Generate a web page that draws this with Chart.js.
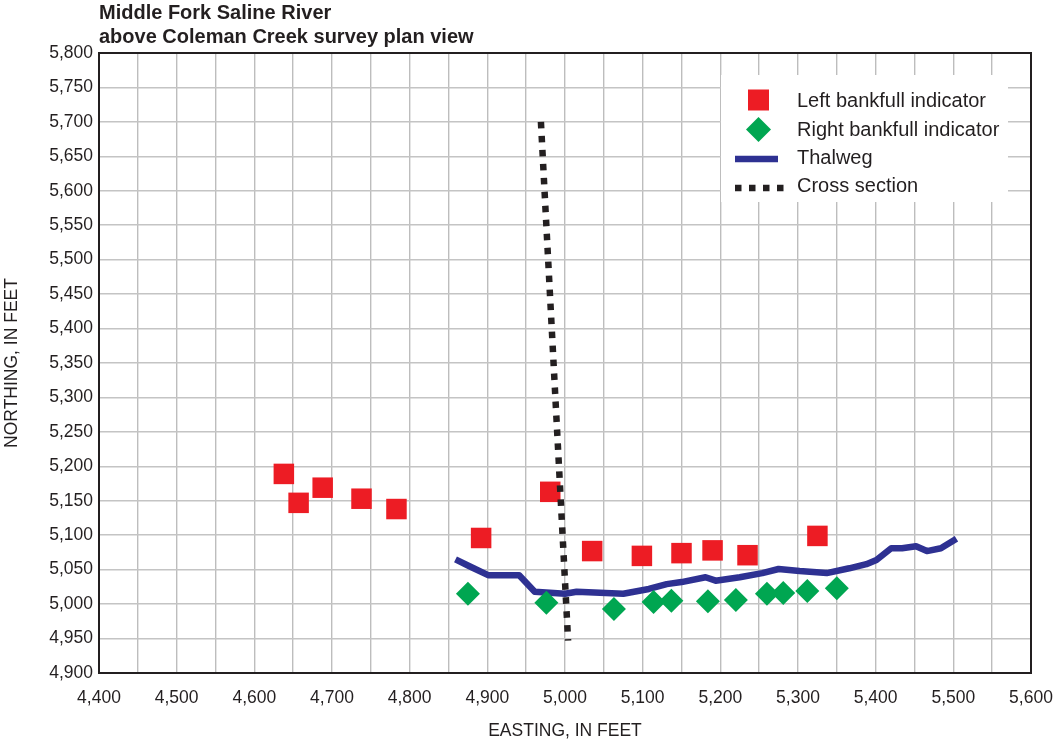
<!DOCTYPE html>
<html>
<head>
<meta charset="utf-8">
<script src="https://cdn.jsdelivr.net/npm/chart.js@4.4.1/dist/chart.umd.min.js"></script>
<style>
  html, body { margin: 0; padding: 0; background: #ffffff; }
  #wrap { width: 1056px; height: 742px; position: relative; }
</style>
</head>
<body>
<div id="wrap"><canvas id="plan" width="1056" height="742"></canvas></div>
<script>
// Survey plan view, Middle Fork Saline River above Coleman Creek
const titleLines = ['Middle Fork Saline River', 'above Coleman Creek survey plan view'];
const xAxisTitle = 'EASTING, IN FEET';
const yAxisTitle = 'NORTHING, IN FEET';
const seriesNames = ['Left bankfull indicator', 'Right bankfull indicator', 'Thalweg', 'Cross section'];

const xTickLabels = ['4,400', '4,500', '4,600', '4,700', '4,800', '4,900', '5,000',
                     '5,100', '5,200', '5,300', '5,400', '5,500', '5,600'];
const yTickLabels = ['4,900', '4,950', '5,000', '5,050', '5,100', '5,150', '5,200', '5,250', '5,300',
                     '5,350', '5,400', '5,450', '5,500', '5,550', '5,600', '5,650', '5,700', '5,750', '5,800'];

// Left bankfull indicator points (easting, northing), feet
const leftEasting  = [4638, 4657, 4688, 4738, 4783, 4892, 4981, 5035, 5099, 5150, 5190, 5235, 5325];
const leftNorthing = [5189, 5147, 5169, 5153, 5138, 5096, 5163, 5077, 5070, 5074, 5078, 5071, 5099];

// Right bankfull indicator points
const rightEasting  = [4875, 4976, 5063, 5114, 5137, 5184, 5220, 5260, 5281, 5312, 5350];
const rightNorthing = [5015, 5002, 4993, 5003, 5005, 5004, 5006, 5015, 5016, 5019, 5023];

// Thalweg survey shots
const thalwegEasting  = [4859, 4877, 4901, 4941, 4961, 5000, 5015, 5075, 5108, 5131, 5150, 5181, 5194,
                         5225, 5254, 5275, 5302, 5337, 5366, 5388, 5401, 5420, 5434, 5452, 5466, 5484, 5504];
const thalwegNorthing = [5065, 5055, 5042, 5042, 5018, 5015, 5018, 5015, 5022, 5029, 5032, 5039, 5034,
                         5039, 5045, 5051, 5048, 5045, 5052, 5058, 5064, 5081, 5081, 5084, 5077, 5081, 5095];

// Cross section end points
const sectionEasting  = [4969, 5004];
const sectionNorthing = [5700, 4947];

const toPoints = (xs, ys) => xs.map((x, i) => ({ x: x, y: ys[i] }));

const FONT = '"Liberation Sans", Arial, Helvetica, sans-serif';
const INK = '#231f20';
const RED = '#ed1c24';
const GREEN = '#00a651';
const NAVY = '#2e3192';

const fmtTick = (labels, start, step) => (value) => {
  const idx = Math.round((value - start) / step);
  if (Math.abs(value - (start + idx * step)) > 1e-6) return '';
  return labels[idx] !== undefined ? labels[idx] : '';
};

// Title above the plot, the frame around it, and the key in the upper right
const decorations = {
  id: 'decorations',
  beforeDatasetsDraw(chart) {
    const { ctx, chartArea: a } = chart;
    ctx.save();
    ctx.strokeStyle = INK;
    ctx.lineWidth = 2;
    ctx.strokeRect(a.left, a.top, a.right - a.left, a.bottom - a.top);
    ctx.restore();
  },
  afterDatasetsDraw(chart) {
    const { ctx, chartArea: a } = chart;
    ctx.save();
    // title
    ctx.fillStyle = INK;
    ctx.font = 'bold 20px ' + FONT;
    ctx.textAlign = 'left';
    ctx.textBaseline = 'alphabetic';
    ctx.fillText(titleLines[0], a.left, 19);
    ctx.fillText(titleLines[1], a.left, 43);

    // key
    const ds = chart.data.datasets;
    ctx.fillStyle = '#ffffff';
    ctx.fillRect(721, 75, 287, 127);
    const markX = 758.5, textX = 797;
    const rows = [100, 129.5, 157, 185];

    // left bankfull square
    ctx.fillStyle = ds[0].backgroundColor;
    ctx.fillRect(markX - 10.5, rows[0] - 10.5, 21, 21);
    // right bankfull diamond
    ctx.fillStyle = ds[1].backgroundColor;
    ctx.beginPath();
    ctx.moveTo(markX, rows[1] - 12.5);
    ctx.lineTo(markX + 12.5, rows[1]);
    ctx.lineTo(markX, rows[1] + 12.5);
    ctx.lineTo(markX - 12.5, rows[1]);
    ctx.closePath();
    ctx.fill();
    // thalweg line
    ctx.strokeStyle = ds[2].borderColor;
    ctx.lineWidth = ds[2].borderWidth;
    ctx.lineCap = 'butt';
    ctx.beginPath();
    ctx.moveTo(735, rows[2] + 2);
    ctx.lineTo(778, rows[2] + 2);
    ctx.stroke();
    // cross section dots
    ctx.strokeStyle = ds[3].borderColor;
    ctx.lineWidth = ds[3].borderWidth;
    ctx.setLineDash(ds[3].borderDash);
    ctx.beginPath();
    ctx.moveTo(735, rows[3] + 3);
    ctx.lineTo(786, rows[3] + 3);
    ctx.stroke();
    ctx.setLineDash([]);

    ctx.fillStyle = INK;
    ctx.font = '20px ' + FONT;
    ctx.textBaseline = 'middle';
    seriesNames.forEach((name, i) => ctx.fillText(name, textX, rows[i] + 1));
    ctx.restore();
  }
};

new Chart(document.getElementById('plan'), {
  type: 'scatter',
  data: {
    datasets: [
      {
        label: seriesNames[0],
        data: toPoints(leftEasting, leftNorthing),
        pointStyle: 'rect',
        pointRadius: 14.5,
        pointHoverRadius: 14.5,
        backgroundColor: RED,
        borderColor: RED,
        borderWidth: 0,
        order: 1
      },
      {
        label: seriesNames[1],
        data: toPoints(rightEasting, rightNorthing),
        pointStyle: 'rectRot',
        pointRadius: 12,
        pointHoverRadius: 12,
        backgroundColor: GREEN,
        borderColor: GREEN,
        borderWidth: 0,
        order: 2
      },
      {
        label: seriesNames[2],
        data: toPoints(thalwegEasting, thalwegNorthing),
        showLine: true,
        borderColor: NAVY,
        backgroundColor: NAVY,
        borderWidth: 6.5,
        borderJoinStyle: 'round',
        pointRadius: 0,
        pointHoverRadius: 0,
        tension: 0,
        order: 3
      },
      {
        label: seriesNames[3],
        data: toPoints(sectionEasting, sectionNorthing),
        showLine: true,
        borderColor: INK,
        backgroundColor: INK,
        borderWidth: 6.5,
        borderDash: [6.5, 7.5],
        borderCapStyle: 'butt',
        pointRadius: 0,
        pointHoverRadius: 0,
        tension: 0,
        order: 0
      }
    ]
  },
  options: {
    responsive: false,
    animation: false,
    devicePixelRatio: 1,
    layout: { padding: { left: 0, right: 25, top: 53, bottom: 0 } },
    plugins: {
      legend: { display: false },
      title: { display: false },
      tooltip: { enabled: false }
    },
    scales: {
      x: {
        type: 'linear',
        min: 4400,
        max: 5600,
        afterFit: (s) => { s.height = 69; s.paddingLeft = 0; s.paddingRight = 0; },
        border: { display: false },
        grid: { color: '#bdbdbd', lineWidth: 1.4, drawTicks: false },
        ticks: {
          stepSize: 50,
          autoSkip: false,
          maxRotation: 0,
          padding: 15,
          color: INK,
          font: { family: FONT, size: 17.5 },
          callback: fmtTick(xTickLabels, 4400, 100)
        },
        title: {
          display: true,
          text: xAxisTitle,
          color: INK,
          font: { family: FONT, size: 17.5 },
          padding: { top: 0, bottom: 0 }
        }
      },
      y: {
        type: 'linear',
        min: 4900,
        max: 5800,
        afterFit: (s) => { s.width = 99; s.paddingTop = 0; s.paddingBottom = 0; },
        border: { display: false },
        grid: { color: '#c4c4c4', lineWidth: 1.6, drawTicks: false },
        ticks: {
          stepSize: 50,
          autoSkip: false,
          padding: 6,
          color: INK,
          font: { family: FONT, size: 17.5 },
          callback: fmtTick(yTickLabels, 4900, 50)
        },
        title: {
          display: true,
          text: yAxisTitle,
          color: INK,
          font: { family: FONT, size: 17.5 },
          padding: { top: 2, bottom: 0 }
        }
      }
    }
  },
  plugins: [decorations]
});
</script>
</body>
</html>
